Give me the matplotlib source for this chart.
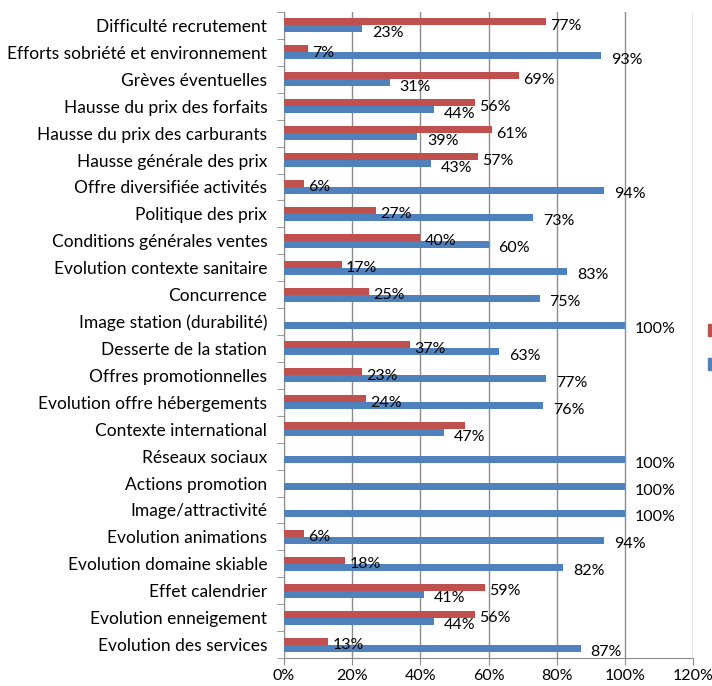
import numpy as np
import matplotlib.pyplot as plt
from matplotlib.patches import Patch
from matplotlib.ticker import FixedLocator, PercentFormatter

categories = [
    "Difficulté recrutement",
    "Efforts sobriété et environnement",
    "Grèves éventuelles",
    "Hausse du prix des forfaits",
    "Hausse du prix des carburants",
    "Hausse générale des prix",
    "Offre diversifiée activités",
    "Politique des prix",
    "Conditions générales ventes",
    "Evolution contexte sanitaire",
    "Concurrence",
    "Image station (durabilité)",
    "Desserte de la station",
    "Offres promotionnelles",
    "Evolution offre hébergements",
    "Contexte international",
    "Réseaux sociaux",
    "Actions promotion",
    "Image/attractivité",
    "Evolution animations",
    "Evolution domaine skiable",
    "Effet calendrier",
    "Evolution enneigement",
    "Evolution des services",
]
red_vals = [77, 7, 69, 56, 61, 57, 6, 27, 40, 17, 25, 0, 37, 23, 24, 53, 0, 0, 0, 6, 18, 59, 56, 13]
blue_vals = [23, 93, 31, 44, 39, 43, 94, 73, 60, 83, 75, 100, 63, 77, 76, 47, 100, 100, 100, 94, 82, 41, 44, 87]
# red labels that are not printed (zero bars, and the one hidden under the blue label)
red_hidden = {"Contexte international"}

RED = "#c0504d"
BLUE = "#4f81bd"
GRID = "#8c8c8c"

plt.rcParams['font.family'] = ['Lato', 'DejaVu Sans']

fig = plt.figure(figsize=(7.12, 6.86), dpi=100)
ax = fig.add_axes([284 / 712, 1 - 658 / 686, (693 - 284) / 712, (658 - 12) / 686])

n = len(categories)
y = np.arange(n)
h = 0.26
ax.barh(y - h / 2, red_vals, height=h, color=RED, zorder=3)
ax.barh(y + h / 2, blue_vals, height=h, color=BLUE, zorder=3)

for i, cat in enumerate(categories):
    if red_vals[i] > 0 and cat not in red_hidden:
        ax.annotate(f"{red_vals[i]}%", (red_vals[i], y[i] - h / 2), xytext=(4, -4),
                    textcoords='offset pixels', va='center', ha='left', fontsize=11.5, zorder=4)
    if blue_vals[i] > 0:
        ax.annotate(f"{blue_vals[i]}%", (blue_vals[i], y[i] + h / 2), xytext=(10, -4),
                    textcoords='offset pixels', va='center', ha='left', fontsize=11.5, zorder=4)

ax.set_xlim(0, 120)
ax.set_ylim(n - 0.5, -0.5)
ax.set_xticks(np.arange(0, 121, 20))
ax.xaxis.set_major_formatter(PercentFormatter(decimals=0))
ax.set_yticks(y)
ax.set_yticklabels(categories, fontsize=12.5)
ax.yaxis.set_minor_locator(FixedLocator(np.arange(n + 1) - 0.5))
ax.tick_params(axis='y', which='major', length=0, pad=12)
ax.tick_params(axis='y', which='minor', length=5, color=GRID)
ax.tick_params(axis='x', length=5, color=GRID, labelsize=11.5, pad=3)
ax.grid(axis='x', color=GRID, linewidth=1, zorder=0)

for side in ['top', 'right']:
    ax.spines[side].set_visible(False)
for side in ['left', 'bottom']:
    ax.spines[side].set_color(GRID)

handles = [Patch(color=RED), Patch(color=BLUE)]
fig.legend(handles, ['', ''], loc='center left', bbox_to_anchor=(708 / 712, 1 - 348 / 686),
           frameon=False, handlelength=0.8, handleheight=0.8, labelspacing=1.3, borderpad=0,
           borderaxespad=0, fontsize=11)

fig.savefig("out.png", dpi=100)
